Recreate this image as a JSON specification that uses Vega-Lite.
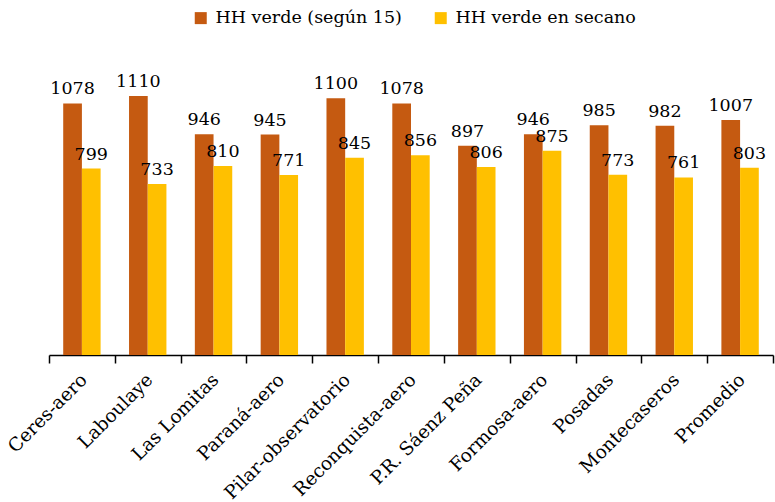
{
  "$schema": "https://vega.github.io/schema/vega-lite/v6.json",
  "width": 724,
  "height": 280,
  "autosize": "none",
  "padding": {"left": 49, "top": 75, "right": 2, "bottom": 147},
  "config": {"font": "DejaVu Serif", "view": {"stroke": null}},
  "data": {
    "values": [
      {"estacion": "Ceres-aero", "serie": "HH verde (según 15)", "valor": 1078},
      {"estacion": "Ceres-aero", "serie": "HH verde en secano", "valor": 799},
      {"estacion": "Laboulaye", "serie": "HH verde (según 15)", "valor": 1110},
      {"estacion": "Laboulaye", "serie": "HH verde en secano", "valor": 733},
      {"estacion": "Las Lomitas", "serie": "HH verde (según 15)", "valor": 946},
      {"estacion": "Las Lomitas", "serie": "HH verde en secano", "valor": 810},
      {"estacion": "Paraná-aero", "serie": "HH verde (según 15)", "valor": 945},
      {"estacion": "Paraná-aero", "serie": "HH verde en secano", "valor": 771},
      {"estacion": "Pilar-observatorio", "serie": "HH verde (según 15)", "valor": 1100},
      {"estacion": "Pilar-observatorio", "serie": "HH verde en secano", "valor": 845},
      {"estacion": "Reconquista-aero", "serie": "HH verde (según 15)", "valor": 1078},
      {"estacion": "Reconquista-aero", "serie": "HH verde en secano", "valor": 856},
      {"estacion": "P.R. Sáenz Peña", "serie": "HH verde (según 15)", "valor": 897},
      {"estacion": "P.R. Sáenz Peña", "serie": "HH verde en secano", "valor": 806},
      {"estacion": "Formosa-aero", "serie": "HH verde (según 15)", "valor": 946},
      {"estacion": "Formosa-aero", "serie": "HH verde en secano", "valor": 875},
      {"estacion": "Posadas", "serie": "HH verde (según 15)", "valor": 985},
      {"estacion": "Posadas", "serie": "HH verde en secano", "valor": 773},
      {"estacion": "Montecaseros", "serie": "HH verde (según 15)", "valor": 982},
      {"estacion": "Montecaseros", "serie": "HH verde en secano", "valor": 761},
      {"estacion": "Promedio", "serie": "HH verde (según 15)", "valor": 1007},
      {"estacion": "Promedio", "serie": "HH verde en secano", "valor": 803}
    ]
  },
  "encoding": {
    "x": {
      "field": "estacion",
      "type": "nominal",
      "sort": null,
      "scale": {"paddingInner": 0, "paddingOuter": 0},
      "axis": {
        "title": null,
        "labelAngle": -45,
        "labelFontSize": 18.5,
        "labelColor": "black",
        "labelLimit": 0,
        "labelOffset": -5,
        "labelPadding": 7,
        "domainColor": "black",
        "domainWidth": 1.5,
        "tickColor": "black",
        "tickWidth": 1.5,
        "tickSize": 8,
        "tickBand": "extent"
      }
    },
    "xOffset": {
      "field": "serie",
      "type": "nominal",
      "sort": ["HH verde (según 15)", "HH verde en secano"],
      "scale": {"paddingInner": 0, "paddingOuter": 0.76}
    },
    "y": {
      "field": "valor",
      "type": "quantitative",
      "scale": {"domain": [0, 1200]},
      "axis": null
    }
  },
  "layer": [
    {
      "mark": {"type": "bar"},
      "encoding": {
        "color": {
          "field": "serie",
          "type": "nominal",
          "scale": {
            "domain": ["HH verde (según 15)", "HH verde en secano"],
            "range": ["#C55A11", "#FFC000"]
          },
          "legend": {
            "title": null,
            "orient": "none",
            "legendX": 143,
            "legendY": -66,
            "direction": "horizontal",
            "symbolType": "square",
            "symbolSize": 144,
            "symbolStrokeWidth": 0,
            "labelFontSize": 17.5,
            "labelColor": "black",
            "labelLimit": 0,
            "labelOffset": 6,
            "columnPadding": 30
          }
        }
      }
    },
    {
      "mark": {"type": "text", "baseline": "alphabetic", "dy": -9, "fontSize": 17.5, "color": "black"},
      "encoding": {
        "text": {"field": "valor", "type": "quantitative", "format": "d"}
      }
    }
  ]
}
